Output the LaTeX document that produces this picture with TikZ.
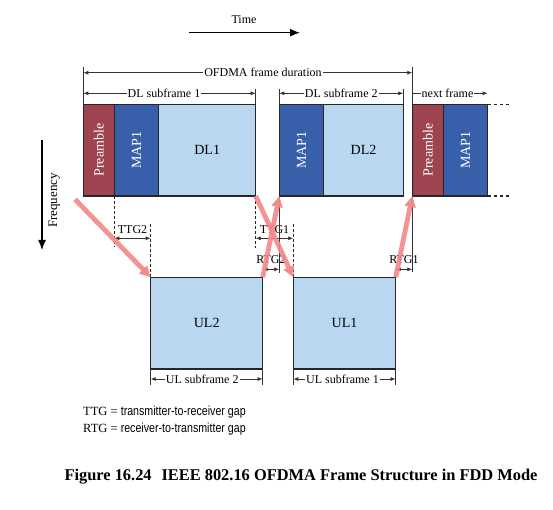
\documentclass[tikz,border=0pt]{standalone}
\usepackage{fontspec}
\setmainfont{Liberation Serif}
\newfontfamily\narrowsans{Liberation Sans}
\usetikzlibrary{arrows.meta}
\definecolor{preamblered}{RGB}{158,68,80}
\definecolor{mapblue}{RGB}{56,96,170}
\definecolor{burstblue}{RGB}{185,215,241}
\definecolor{hoppink}{RGB}{242,135,135}
\tikzset{
    slot/.style={draw=black!85, line width=1.1pt, inner sep=0pt, outer sep=0pt, anchor=north west,
        minimum height=91.7pt, font=\fontsize{14}{14}\selectfont},
    edge/.style={draw=black!80, line width=1pt},
    dim/.style={draw=black!80, line width=0.8pt, {Latex[length=5pt,width=4pt]}-{Latex[length=5pt,width=4pt]}},
    dimend/.style={draw=black!80, line width=0.8pt, -{Latex[length=5pt,width=4pt]}},
    lbl/.style={fill=white, inner sep=1pt, font=\fontsize{12}{12}\selectfont},
    gaplbl/.style={inner sep=0pt, font=\fontsize{12}{12}\selectfont},
    gapline/.style={draw=black!85, line width=0.9pt, dash pattern=on 3pt off 2pt},
    dotcont/.style={draw=black!85, line width=1.1pt, dash pattern=on 3pt off 3pt},
    hop/.style={draw=hoppink, line width=4.8pt, -{Triangle[length=11pt,width=11pt]}, opacity=0.9},
    axis/.style={draw=black, line width=1.3pt, -{Latex[length=10pt,width=8pt]}}
}
\begin{document}
\begin{tikzpicture}[x=1pt,y=-1pt]
        \useasboundingbox (0,0) rectangle (553,510);
        \coordinate (ytop) at (0,66.7);
        \coordinate (yframe) at (0,72.7);
        \coordinate (ytick) at (0,89);
        \coordinate (ysub) at (0,93.3);
        \coordinate (yttg) at (0,238.3);
        \coordinate (yrtg) at (0,269.3);
        \coordinate (yul) at (0,379);

        \node[slot, fill=preamblered, text=white, minimum width=31pt] (pre1) at (83.3,104.3) {\rotatebox{90}{Preamble}};
        \node[slot, fill=mapblue, text=white, minimum width=44.4pt] (mapa) at (pre1.north east) {\rotatebox{90}{MAP1}};
        \node[slot, fill=burstblue, minimum width=97pt] (dl1) at (mapa.north east) {DL1};
        \node[slot, fill=mapblue, text=white, minimum width=44.4pt] (mapb) at (279.3,104.3) {\rotatebox{90}{MAP1}};
        \node[slot, fill=burstblue, minimum width=79.6pt] (dl2) at (mapb.north east) {DL2};
        \node[slot, fill=preamblered, text=white, minimum width=31pt] (pre2) at (412.3,104.3) {\rotatebox{90}{Preamble}};
        \node[slot, fill=mapblue, text=white, minimum width=44.4pt] (mapc) at (pre2.north east) {\rotatebox{90}{MAP1}};
        \node[slot, fill=burstblue, minimum width=112pt] (ul2) at (150.7,277.3) {UL2};
        \node[slot, fill=burstblue, minimum width=102.4pt] (ul1) at (293.3,277.3) {UL1};

        \draw[edge] (pre1.north west |- ytop) -- (pre1.north west);
        \draw[edge] (pre2.north west |- ytop) -- (pre2.north west);
        \draw[edge] (pre2.south west) -- ++(0,76);
        \draw[edge] (mapb.south west) -- ++(0,77);
        \draw[edge] (dl1.north east |- ytick) -- (dl1.north east);
        \draw[edge] (mapb.north west |- ytick) -- (mapb.north west);
        \draw[edge] (dl2.north east |- ytick) -- (dl2.north east);
        \draw[dotcont] (mapc.north east) -- ++(21,0);
        \draw[dotcont] (mapc.south east) -- ++(21,0);

        \draw[dim] (pre1.north west |- yframe) -- node[lbl, pos=0.546] (framelbl) {OFDMA frame duration} (pre2.north west |- yframe);
        \draw[dim] (pre1.north west |- ysub) -- node[lbl, pos=0.468] (dlsub1) {DL subframe 1} (dl1.north east |- ysub);
        \draw[dim] (mapb.north west |- ysub) -- node[lbl] (dlsub2) {DL subframe 2} (dl2.north east |- ysub);
        \draw[dimend] (pre2.north west |- ysub) -- node[lbl, pos=0.467] (nextlbl) {next frame} (mapc.north east |- ysub);

        \draw[gapline] (mapa.south west) -- ++(0,50.7);
        \draw[gapline] (ul2.north west) -- ++(0,-54.3);
        \draw[gapline] (dl1.south east) -- ++(0,52);
        \draw[gapline] (ul1.north west) -- ++(0,-54.3);
        \draw[dim] (mapa.south west |- yttg) -- node[gaplbl, above=4pt] (ttg2) {TTG2} (ul2.north west |- yttg);
        \draw[dim] (dl1.south east |- yttg) -- node[gaplbl, above=4pt] (ttg1) {TTG1} (ul1.north west |- yttg);
        \draw[dim] (ul2.north east |- yrtg) -- node[gaplbl, above=5pt] (rtg2) {RTG2} (mapb.south west |- yrtg);
        \draw[dim] (ul1.north east |- yrtg) -- node[gaplbl, above=5pt] (rtg1) {RTG1} (pre2.south west |- yrtg);

        \draw[edge] (ul2.south west) -- ++(0,16);
        \draw[edge] (ul2.south east) -- ++(0,16);
        \draw[edge] (ul1.south west) -- ++(0,16);
        \draw[edge] (ul1.south east) -- ++(0,16);
        \draw[dim] (ul2.south west |- yul) -- node[lbl, pos=0.46] (ulsub2) {UL subframe 2} (ul2.south east |- yul);
        \draw[dim] (ul1.south west |- yul) -- node[lbl, pos=0.48] (ulsub1) {UL subframe 1} (ul1.south east |- yul);

        \coordinate (hopstart) at (75,199.3);
        \draw[hop] (hopstart) -- (ul2.north west);
        \draw[hop] (dl1.south east) -- (ul1.north west);
        \draw[hop] (ul2.north east) -- (mapb.south west);
        \draw[hop] (ul1.north east) -- (pre2.south west);

        \coordinate (timestart) at (189.3,32.7);
        \coordinate (timeend) at (300,32.7);
        \draw[axis] (timestart) -- (timeend);
        \node[font=\fontsize{12}{12}\selectfont] (timelbl) at (244,20) {Time};
        \coordinate (freqstart) at (42,140);
        \coordinate (freqend) at (42,250);
        \draw[axis] (freqstart) -- (freqend);
        \node[rotate=90, font=\fontsize{13}{13}\selectfont] (freqlbl) at (54.3,200.5) {Frequency};

        \node[anchor=west, inner sep=0pt, font=\fontsize{12.5}{12.5}\selectfont] (ttgnote) at (83,412.3)
            {TTG = \scalebox{0.82}[1]{\narrowsans\fontsize{13}{13}\selectfont transmitter-to-receiver gap}};
        \node[anchor=west, inner sep=0pt, font=\fontsize{12.5}{12.5}\selectfont] (rtgnote) at (83,429)
            {RTG = \scalebox{0.82}[1]{\narrowsans\fontsize{13}{13}\selectfont receiver-to-transmitter gap}};
        \node[font=\bfseries\fontsize{16.4}{16.4}\selectfont] (caption) at (301,477)
            {Figure 16.24\hspace{0.6em}IEEE 802.16 OFDMA Frame Structure in FDD Mode};

    \end{tikzpicture}
\end{document}
